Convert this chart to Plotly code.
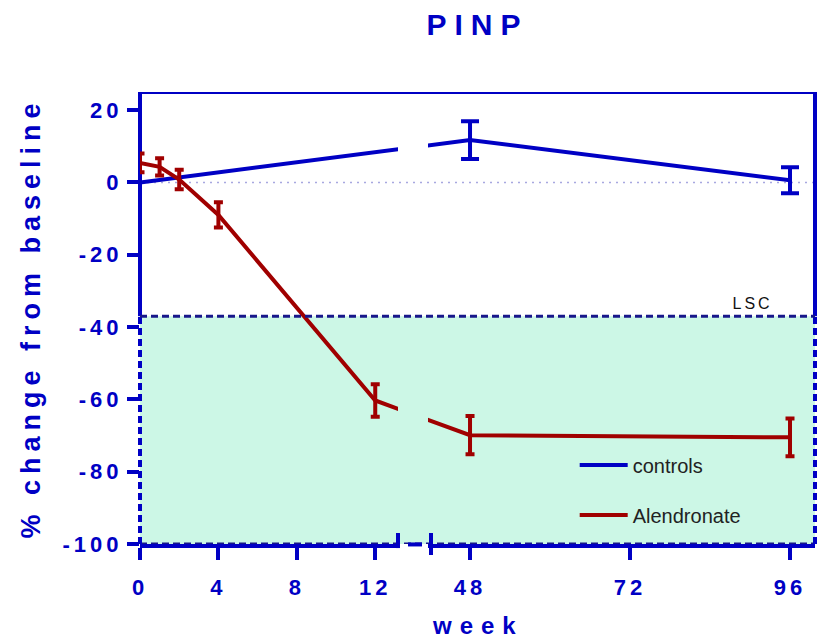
import plotly.graph_objects as go

# ---------------- data ----------------
ctrl_weeks = [0, 48, 96]
ctrl_mean = [0.0, 11.7, 0.6]
ctrl_err = [0.0, 5.2, 3.6]

aln_weeks = [0, 1, 2, 4, 12, 48, 96]
aln_mean = [5.4, 4.3, 0.8, -9.0, -60.3, -69.9, -70.5]
aln_err = [2.6, 2.4, 2.7, 3.5, 4.5, 5.3, 5.2]

lsc_value = -37
y_floor = -100
y_top = 25

x_ticks_seg1 = [0, 4, 8, 12]
x_ticks_seg2 = [48, 72, 96]
y_ticks = [20, 0, -20, -40, -60, -80, -100]

# ---------------- style ----------------
BLUE = "#0000c4"
RED = "#a00000"
NAVY = "#17178a"
MINT = "#ccf7e6"
FONT = "Arial, Liberation Sans, sans-serif"

# broken x axis: two domains / ranges
D1 = [0.0, 0.3822]
R1 = [0.0, 13.16]
D2 = [0.4267, 1.0]
R2 = [41.7, 99.75]


def paper1(v):
    return D1[0] + (v - R1[0]) / (R1[1] - R1[0]) * (D1[1] - D1[0])


def paper2(v):
    return D2[0] + (v - R2[0]) / (R2[1] - R2[0]) * (D2[1] - D2[0])


def inv1(p):
    return R1[0] + (p - D1[0]) / (D1[1] - D1[0]) * (R1[1] - R1[0])


def inv2(p):
    return R2[0] + (p - D2[0]) / (D2[1] - D2[0]) * (R2[1] - R2[0])


fig = go.Figure()


def add_series(name, weeks, mean, err, color, capw):
    s1 = [(w, m, e) for w, m, e in zip(weeks, mean, err) if w <= R1[1]]
    s2 = [(w, m, e) for w, m, e in zip(weeks, mean, err) if w >= R2[0]]
    x1 = [p[0] for p in s1]
    y1 = [p[1] for p in s1]
    if s2:
        x1.append(inv1(paper2(s2[0][0])))
        y1.append(s2[0][1])
    fig.add_trace(go.Scatter(x=x1, y=y1, mode="lines", name=name,
                             line=dict(color=color, width=4),
                             xaxis="x", yaxis="y", legendgroup=name,
                             showlegend=True))
    x2 = [p[0] for p in s2]
    y2 = [p[1] for p in s2]
    if s1:
        x2 = [inv2(paper1(s1[-1][0]))] + x2
        y2 = [s1[-1][1]] + y2
    fig.add_trace(go.Scatter(x=x2, y=y2, mode="lines", name=name,
                             line=dict(color=color, width=4),
                             xaxis="x2", yaxis="y", legendgroup=name,
                             showlegend=False))
    for seg, xa in ((s1, "x"), (s2, "x2")):
        pts = [p for p in seg if p[2] > 0]
        if not pts:
            continue
        fig.add_trace(go.Scatter(
            x=[p[0] for p in pts], y=[p[1] for p in pts], mode="markers",
            marker=dict(size=0.1, color=color), xaxis=xa, yaxis="y",
            showlegend=False, hoverinfo="skip", cliponaxis=False,
            error_y=dict(type="data", array=[p[2] for p in pts],
                         color=color, thickness=4, width=capw)))


add_series("controls", ctrl_weeks, ctrl_mean, ctrl_err, BLUE, 9)
add_series("Alendronate", aln_weeks, aln_mean, aln_err, RED, 4.5)

tickfont = dict(family=FONT, size=22, color=BLUE, weight="bold")

common_x = dict(showline=True, linecolor=BLUE, linewidth=4, ticks="outside",
                ticklen=12, tickwidth=4, tickcolor=BLUE, showgrid=False,
                zeroline=False, tickfont=tickfont, anchor="y",
                ticklabelstandoff=9, automargin=False)

fig.update_layout(
    width=825, height=643,
    margin=dict(l=140, r=10, t=92, b=99, autoexpand=False),
    paper_bgcolor="white", plot_bgcolor="white",
    xaxis=dict(domain=D1, range=R1, tickmode="array", tickvals=x_ticks_seg1,
               ticktext=[str(v) for v in x_ticks_seg1], **common_x),
    xaxis2=dict(domain=D2, range=R2, tickmode="array", tickvals=x_ticks_seg2,
                ticktext=[str(v) for v in x_ticks_seg2], **common_x),
    yaxis=dict(range=[y_floor, y_top], tickmode="array", tickvals=y_ticks,
               ticktext=[str(v) for v in y_ticks], showline=False,
               ticks="outside", ticklen=12, tickwidth=4, tickcolor=BLUE,
               showgrid=False, zeroline=False, tickfont=tickfont,
               ticklabelstandoff=0, automargin=False,
               title=dict(text="% change from baseline", standoff=30,
                          font=dict(family=FONT, size=27, color=BLUE,
                                    weight="bold"))),
    title=dict(text="PINP", x=0.5, xref="paper", y=1 - 24 / 643,
               yanchor="middle",
               font=dict(family=FONT, size=30, color=BLUE, weight="bold")),
    showlegend=True,
    legend=dict(x=0.644, y=0.218, xanchor="left", yanchor="top",
                bgcolor="rgba(0,0,0,0)", itemwidth=48, tracegroupgap=21,
                font=dict(family=FONT, size=20, color="#222222")),
)

shapes = []
shapes.append(dict(type="rect", xref="paper", yref="y", x0=0, x1=1,
                   y0=y_floor, y1=lsc_value, fillcolor=MINT,
                   line=dict(width=0), layer="below"))
shapes.append(dict(type="line", xref="paper", yref="y", x0=0, x1=1,
                   y0=0, y1=0, line=dict(color="#a8a8e0", width=1.5,
                                         dash="2px,5px"), layer="below"))
shapes.append(dict(type="line", xref="paper", yref="y", x0=0, x1=1,
                   y0=y_floor, y1=y_floor,
                   line=dict(color=NAVY, width=3, dash="7px,4px"),
                   layer="below"))
for xp in (0, 1):
    shapes.append(dict(type="line", xref="paper", yref="y", x0=xp, x1=xp,
                       y0=y_floor, y1=lsc_value, layer="below",
                       line=dict(color=BLUE, width=4, dash="7px,4px")))
    shapes.append(dict(type="line", xref="paper", yref="y", x0=xp, x1=xp,
                       y0=lsc_value, y1=y_top, layer="below",
                       line=dict(color=BLUE, width=4)))
shapes.append(dict(type="line", xref="paper", yref="y", x0=0, x1=1,
                   y0=y_top, y1=y_top, line=dict(color=BLUE, width=4)))
shapes.append(dict(type="line", xref="paper", yref="y", x0=0, x1=1,
                   y0=lsc_value, y1=lsc_value,
                   line=dict(color=NAVY, width=3, dash="7px,4px")))
# axis break marks
shapes.append(dict(type="line", xref="paper", yref="paper", x0=D1[1], x1=D1[1],
                   y0=0.0243, y1=-0.009, line=dict(color=BLUE, width=4)))
shapes.append(dict(type="line", xref="paper", yref="paper",
                   x0=(408 - 140) / 675, x1=(422 - 140) / 675, y0=-0.001,
                   y1=-0.001, line=dict(color=BLUE, width=4)))
shapes.append(dict(type="line", xref="paper", yref="paper",
                   x0=(431 - 140) / 675, x1=(431 - 140) / 675,
                   y0=0.0243, y1=-0.0243, line=dict(color=BLUE, width=4)))
fig.update_layout(shapes=shapes)

fig.add_annotation(text="week", xref="paper", yref="paper", x=0.5,
                   y=(544 - 641) / 452, showarrow=False, yanchor="bottom",
                   font=dict(family=FONT, size=24, color=BLUE, weight="bold"))
fig.add_annotation(text="LSC", xref="paper", yref="y", x=(770 - 140) / 675,
                   y=lsc_value, yanchor="bottom", showarrow=False, yshift=2,
                   font=dict(family=FONT, size=16, color="#111111"))

css = ("body{margin:0 !important;padding:0;}"
       ".gtitle{letter-spacing:8px;}"
       ".g-ytitle text{letter-spacing:6px;}"
       ".xtick text,.x2tick text,.ytick text{letter-spacing:4px;"
       "font-weight:bold !important;}"
       "g.annotation[data-index='0'] text{letter-spacing:8px;}"
       "g.annotation[data-index='1'] text{letter-spacing:3px;}")
post = ("var s=document.createElement('style');s.innerHTML=\"" + css +
        "\";document.head.appendChild(s);"
        "var gd=document.getElementById('{plot_id}');"
        "return Plotly.redraw(gd);")

fig.write_html("out.html", post_script=post,
               config={"displayModeBar": False})
